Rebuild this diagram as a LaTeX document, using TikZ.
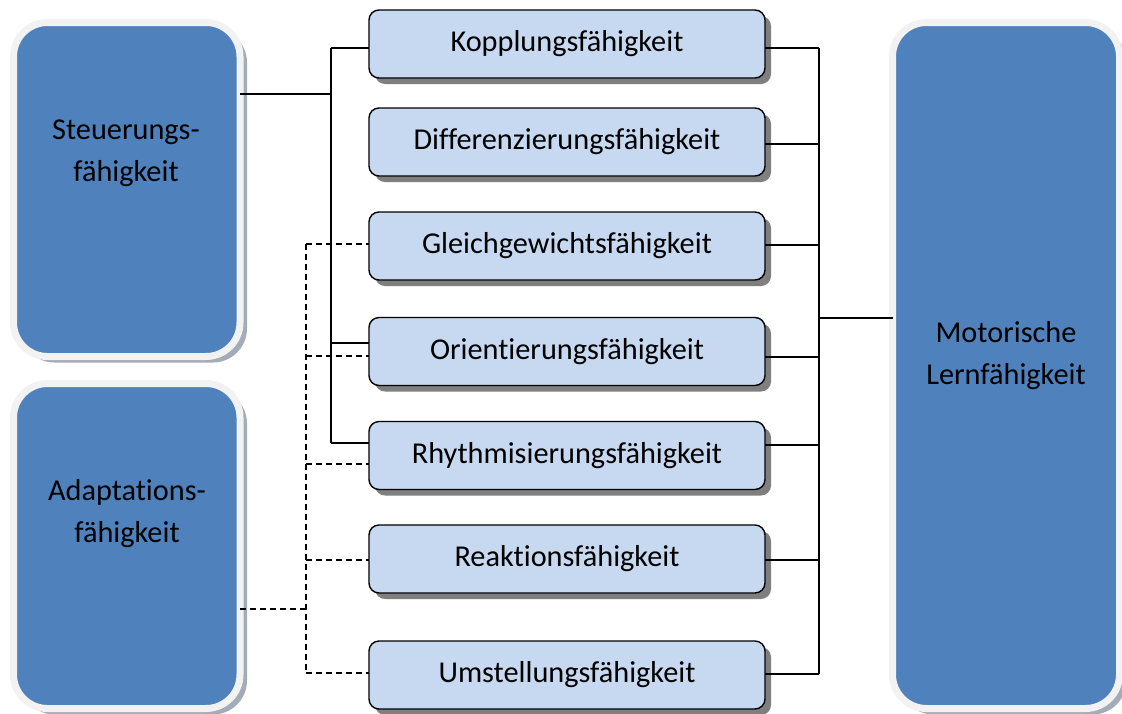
\documentclass[tikz,border=0pt]{standalone}
\usepackage{fontspec}
\setmainfont{Carlito}[Ligatures=NoCommon]
\usetikzlibrary{shadows}
\definecolor{bigblue}{HTML}{4F81BD}
\definecolor{lightblue}{HTML}{C6D9F1}
\definecolor{ringgray}{HTML}{F2F2F2}
\definecolor{bigshadow}{HTML}{A4ACB8}
\definecolor{smallshadow}{HTML}{7F7F7F}
\begin{document}
\begin{tikzpicture}[x=1pt,y=-1pt,
  bigbox/.style={fill=bigblue, draw=ringgray, line width=7pt, rounded corners=34pt,
    outer sep=0pt, inner sep=0pt,
    drop shadow={shadow xshift=7pt, shadow yshift=-6pt, fill=bigshadow, opacity=1}},
  bigtext/.style={align=center, font=\fontsize{30.3}{42}\selectfont, inner sep=0pt},
  mbox/.style={draw=black, line width=1.4pt, fill=lightblue, rounded corners=10pt,
    minimum width=396pt, minimum height=68pt, inner sep=0pt, outer sep=0pt,
    font=\fontsize{30.3}{36}\selectfont,
    drop shadow={shadow xshift=6pt, shadow yshift=-6pt, fill=smallshadow, opacity=1}},
  conn/.style={draw=black, line width=1.3pt},
  dconn/.style={draw=black, line width=1.3pt, dash pattern=on 6pt off 4pt}]
\useasboundingbox (0,0) rectangle (1122,713);
\clip (0,0) rectangle (1122,713);

% big boxes
\node[bigbox, minimum width=226.5pt, minimum height=334pt] (S) at (126.75,189.5) {};
\node[bigbox, minimum width=226.5pt, minimum height=325pt] (A) at (126.75,546) {};
\node[bigbox, minimum width=227pt, minimum height=686pt] (M) at (1006,365.5) {};
\node[bigtext] (St) at (126,153) {Steuerungs-\\fähigkeit};
\node[bigtext] (At) at (127,514) {Adaptations-\\fähigkeit};
\node[bigtext] (Mt) at (1006,356) {Motorische\\Lernfähigkeit};

% middle boxes
\node[mbox] (K)  at (567,44)    {Kopplungsfähigkeit};
\node[mbox] (D)  at (567,142)   {Differenzierungsfähigkeit};
\node[mbox] (G)  at (567,246)   {Gleichgewichtsfähigkeit};
\node[mbox] (O)  at (567,351.5) {Orientierungsfähigkeit};
\node[mbox] (R)  at (567,455.5) {Rhythmisierungsfähigkeit};
\node[mbox] (Re) at (567,559)   {Reaktionsfähigkeit};
\node[mbox] (U)  at (567,675)   {Umstellungsfähigkeit};

% right bus
\coordinate (rK) at (819,48);
\coordinate (rD) at (819,144);
\coordinate (rG) at (819,245);
\coordinate (rO) at (819,357);
\coordinate (rR) at (819,445);
\coordinate (rRe) at (819,560);
\coordinate (rU) at (819,674);
\coordinate (rM) at (819,318);
\draw[conn] (rK) -- (rU);
\foreach \n in {K,D,G,O,R,Re,U} \draw[conn] (\n.east |- r\n) -- (r\n);
\draw[conn] (rM) -- (M.west |- rM);

% left solid bus
\coordinate (lS) at (331,94);
\coordinate (lK) at (331,48);
\coordinate (lO) at (331,343);
\coordinate (lR) at (331,443);
\draw[conn] (lK) -- (lR);
\draw[conn] (S.east |- lS) -- (lS);
\foreach \n in {K,O,R} \draw[conn] (l\n) -- (\n.west |- l\n);

% left dashed bus
\coordinate (dG) at (306,244);
\coordinate (dO) at (306,356);
\coordinate (dR) at (306,464);
\coordinate (dRe) at (306,560);
\coordinate (dU) at (306,673);
\coordinate (dA) at (306,609);
\draw[dconn] (dG) -- (dU);
\draw[dconn] (A.east |- dA) -- (dA);
\foreach \n in {G,O,R,Re,U} \draw[dconn] (d\n) -- (\n.west |- d\n);
\end{tikzpicture}
\end{document}
